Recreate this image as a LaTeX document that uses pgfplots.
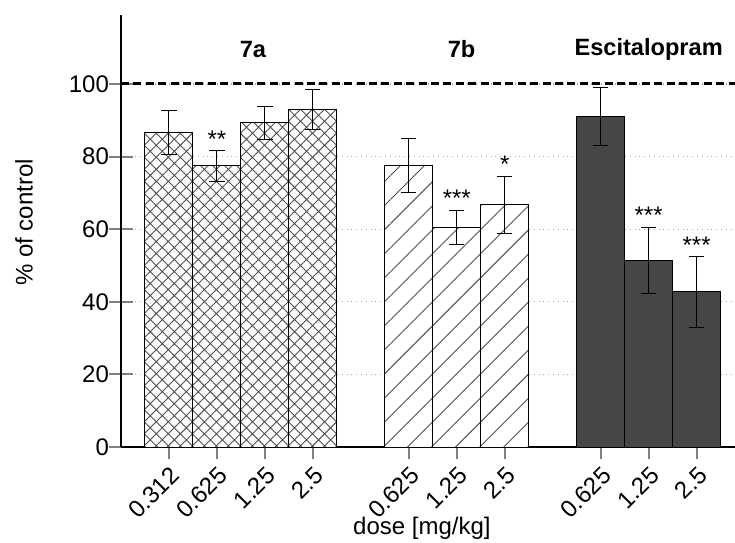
\documentclass[border=0pt]{standalone}
\usepackage{fontspec}
\setmainfont{Liberation Sans}
\usepackage{pgfplots}
\pgfplotsset{compat=1.18}
\usetikzlibrary{patterns.meta}
\definecolor{escfill}{RGB}{70,70,70}
\definecolor{hatchline}{RGB}{80,80,80}

\begin{document}
\begin{tikzpicture}
\begin{axis}[
    scale only axis,
    width=307pt, height=216pt,
    xmin=-1, xmax=11.8,
    ymin=0, ymax=119,
    axis x line=bottom, axis y line=left,
    axis line style={line width=1pt, -},
    ytick={0,20,40,60,80,100},
    xtick={0,1,2,3,5,6,7,9,10,11},
    xticklabels={0.312,0.625,1.25,2.5,0.625,1.25,2.5,0.625,1.25,2.5},
    xtick align=outside, ytick align=center,
    major tick length=12pt,
    xtick style={line width=1pt, /pgfplots/major tick length=6pt},
    ytick style={line width=1pt},
    tick label style={font=\fontsize{12}{14}\selectfont},
    /pgf/number format/assume math mode=true,
    xticklabel style={rotate=45, anchor=north east, xshift=5.5pt, yshift=5.5pt},
    yticklabel style={xshift=3.5pt},
    ymajorgrids,
    grid style={dotted, gray!70, line width=0.6pt},
    xlabel={dose [mg/kg]},
    ylabel={\% of control},
    label style={font=\fontsize{12}{14}\selectfont},
    xlabel style={at={(axis description cs:0.49,-0.1875)}, anchor=center},
    ylabel style={at={(axis description cs:-0.158,0.52)}, anchor=center},
    ybar, bar width=1, bar shift=0pt,
    clip=false,
    error bars/y dir=both, error bars/y explicit,
    error bars/error bar style={line width=0.5pt, black},
    error bars/error mark options={rotate=90, mark size=3.8pt, line width=0.5pt, black},
]
% 7a
\addplot[draw=black, line width=0.5pt, fill=white,
    postaction={pattern={Hatch[angle=45, distance=4.25pt, line width=0.45pt]}, pattern color=hatchline}]
    coordinates {
    (0,86.6) +- (0,6.0)
    (1,77.5) +- (0,4.3)
    (2,89.3) +- (0,4.6)
    (3,93.0) +- (0,5.5)
};
% 7b
\addplot[draw=black, line width=0.5pt, fill=white,
    postaction={pattern={Lines[angle=45, distance=8.5pt, line width=0.45pt]}, pattern color=hatchline}]
    coordinates {
    (5,77.6) +- (0,7.5)
    (6,60.5) +- (0,4.7)
    (7,66.7) +- (0,7.8)
};
% Escitalopram
\addplot[draw=black, line width=0.5pt, fill=escfill]
    coordinates {
    (9,91.0) +- (0,7.9)
    (10,51.4) +- (0,9.2)
    (11,42.7) +- (0,9.7)
};
% control level
\draw[black, line width=1.5pt, dash pattern=on 4pt off 2.2pt]
    (axis cs:-1,100) -- (axis cs:11.8,100);
% significance marks
\tikzset{sig/.style={anchor=south, inner sep=1.5pt, font=\fontsize{12}{12}\selectfont}}
\node[sig] at (axis cs:1,81.7) {**};
\node[sig] at (axis cs:6,65.2) {***};
\node[sig] at (axis cs:7,74.7) {*};
\node[sig] at (axis cs:10,60.6) {***};
\node[sig] at (axis cs:11,52.4) {***};
% group labels
\tikzset{grp/.style={anchor=center, font=\fontsize{11.8}{13}\selectfont\bfseries}}
\node[grp] at (axis cs:1.75,109.5) {7a};
\node[grp] at (axis cs:6.1,109.5) {7b};
\node[grp] at (axis cs:10,109.5) {Escitalopram};
\end{axis}
\pgfresetboundingbox
\path[use as bounding box] (-60.5pt,-47.5pt) rectangle (307pt,223.5pt);
\end{tikzpicture}
\end{document}
